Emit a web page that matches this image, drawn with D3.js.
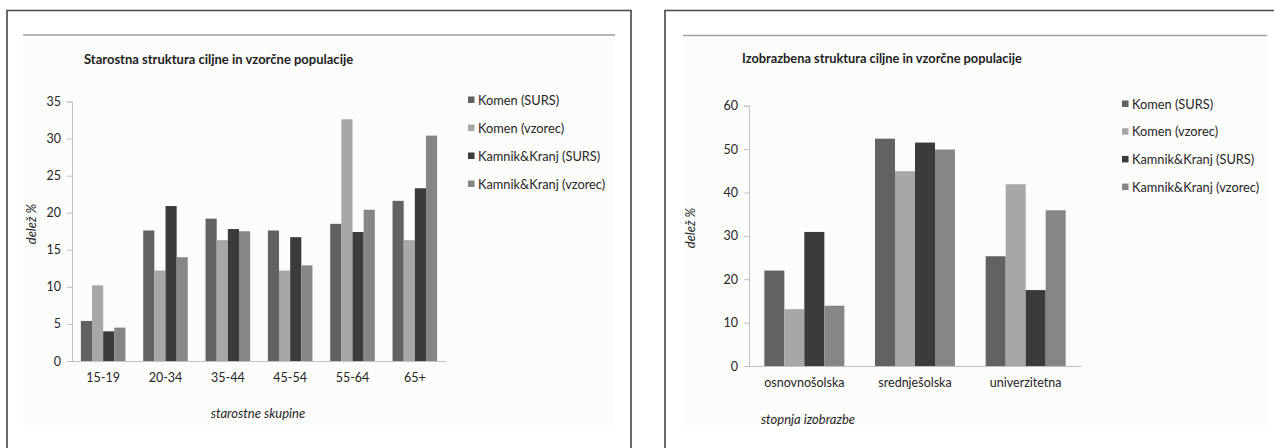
<!DOCTYPE html>
<html>
<head>
<meta charset="utf-8">
<script src="https://cdn.jsdelivr.net/npm/d3@7"></script>
<style>
  html, body { margin: 0; padding: 0; background: #fff; }
  svg { display: block; font-family: Lato, "Open Sans", sans-serif; }
</style>
</head>
<body>
<svg id="chart" width="1274" height="448"></svg>
<script>
// Series shared by both panels
const seriesNames = ["Komen (SURS)", "Komen (vzorec)", "Kamnik&Kranj (SURS)", "Kamnik&Kranj (vzorec)"];
const seriesColors = ["#626262", "#a7a7a7", "#3b3b3b", "#868686"];

// Age structure (share %)
const ageGroups = ["15-19", "20-34", "35-44", "45-54", "55-64", "65+"];
const ageKomenSurs   = [5.4, 17.6, 19.2, 17.6, 18.5, 21.6];
const ageKomenVzorec = [10.2, 12.2, 16.3, 12.2, 32.6, 16.3];
const ageKKSurs      = [4.0, 20.9, 17.8, 16.7, 17.4, 23.3];
const ageKKVzorec    = [4.5, 14.0, 17.5, 12.9, 20.4, 30.4];
const ageTicks = [0, 5, 10, 15, 20, 25, 30, 35];

// Education structure (share %)
const eduLevels = ["osnovnošolska", "srednješolska", "univerzitetna"];
const eduKomenSurs   = [22.0, 52.4, 25.3];
const eduKomenVzorec = [13.1, 44.9, 41.9];
const eduKKSurs      = [30.9, 51.5, 17.5];
const eduKKVzorec    = [13.9, 49.9, 35.9];
const eduTicks = [0, 10, 20, 30, 40, 50, 60];

const svg = d3.select("#chart");

function panel(cfg) {
  const g = svg.append("g");

  // outer frame (open at the bottom / right edge of the page)
  g.append("path")
    .attr("d", cfg.framePath)
    .attr("fill", "none")
    .attr("stroke", "#474747")
    .attr("stroke-width", 1.6);

  // faint chart area
  g.append("rect")
    .attr("x", cfg.area[0]).attr("y", cfg.area[1])
    .attr("width", cfg.area[2]).attr("height", cfg.area[3])
    .attr("fill", "#fcfcfb");

  // rule under the header
  g.append("line")
    .attr("x1", cfg.rule[0]).attr("x2", cfg.rule[1])
    .attr("y1", cfg.rule[2]).attr("y2", cfg.rule[2])
    .attr("stroke", "#a39d9b").attr("stroke-width", 1.6);

  // title
  g.append("text")
    .attr("x", cfg.titlePos[0]).attr("y", cfg.titlePos[1])
    .attr("font-size", cfg.titleSize).attr("font-weight", 700).attr("fill", "#1e1e1e")
    .text(cfg.title);

  const x0 = d3.scaleBand().domain(cfg.categories)
    .range(cfg.xRange).paddingInner(cfg.pad).paddingOuter(cfg.pad / 2);
  const x1 = d3.scaleBand().domain(d3.range(seriesNames.length))
    .range([0, x0.bandwidth()]).padding(0);
  const y = d3.scaleLinear().domain([0, d3.max(cfg.ticks)]).range(cfg.yRange);

  // bars
  const rows = cfg.categories.map((c, i) => ({ c, vals: cfg.series.map(s => s[i]) }));
  g.append("g").selectAll("g").data(rows).join("g")
    .attr("transform", d => `translate(${x0(d.c)},0)`)
    .selectAll("rect").data(d => d.vals.map((v, k) => ({ v, k }))).join("rect")
    .attr("x", d => x1(d.k))
    .attr("width", x1.bandwidth())
    .attr("y", d => y(d.v))
    .attr("height", d => y(0) - y(d.v))
    .attr("fill", d => seriesColors[d.k]);

  // y axis
  const yAxis = g.append("g")
    .attr("transform", `translate(${cfg.xRange[0]},0)`)
    .call(d3.axisLeft(y).tickValues(cfg.ticks).tickSize(5).tickPadding(6));
  yAxis.select(".domain").attr("stroke", "#c4c0bd");
  yAxis.selectAll(".tick line").attr("stroke", "#c4c0bd");
  yAxis.selectAll(".tick text")
    .attr("font-family", "Lato, sans-serif").attr("font-size", 12.5).attr("fill", "#262626");

  // x axis
  const xAxis = g.append("g")
    .attr("transform", `translate(0,${y(0)})`)
    .call(d3.axisBottom(x0).tickSize(0).tickPadding(cfg.xTickPad));
  xAxis.select(".domain").attr("stroke", "#c4c0bd");
  xAxis.selectAll(".tick text")
    .attr("font-family", "Lato, sans-serif").attr("font-size", 12.5).attr("fill", "#262626");

  // axis titles
  g.append("text")
    .attr("transform", `translate(${cfg.yTitlePos[0]},${cfg.yTitlePos[1]}) rotate(-90)`)
    .attr("text-anchor", "middle").attr("font-size", 13).attr("font-style", "italic").attr("fill", "#262626")
    .text("delež %");
  g.append("text")
    .attr("x", cfg.xTitlePos[0]).attr("y", cfg.xTitlePos[1])
    .attr("text-anchor", "middle").attr("font-size", 13).attr("font-style", "italic").attr("fill", "#262626")
    .text(cfg.xTitle);

  // legend
  const leg = g.append("g").selectAll("g").data(seriesNames).join("g")
    .attr("transform", (d, i) => `translate(${cfg.legendPos[0]},${cfg.legendPos[1] + i * cfg.legendStep})`);
  leg.append("rect").attr("x", 0).attr("y", -3.5).attr("width", 6.5).attr("height", 6.5)
    .attr("fill", (d, i) => seriesColors[i]);
  leg.append("text").attr("x", 10).attr("y", 4.5).attr("font-size", 12.8).attr("fill", "#262626")
    .text(d => d);
}

panel({
  framePath: "M7,448 V10.5 H631 V448",
  area: [23, 38, 592, 388],
  rule: [23, 615, 35],
  title: "Starostna struktura ciljne in vzorčne populacije",
  titleSize: 13,
  titlePos: [84, 64],
  categories: ageGroups,
  series: [ageKomenSurs, ageKomenVzorec, ageKKSurs, ageKKVzorec],
  ticks: ageTicks,
  xRange: [72, 446],
  yRange: [361, 101.5],
  pad: 0.285,
  xTickPad: 12,
  yTitlePos: [36, 224],
  xTitle: "starostne skupine",
  xTitlePos: [258, 418],
  legendPos: [468, 100],
  legendStep: 28
});

panel({
  framePath: "M665,448 V10.5 H1280",
  area: [683, 38, 584, 388],
  rule: [683, 1267, 35.5],
  title: "Izobrazbena struktura ciljne in vzorčne populacije",
  titleSize: 12.8,
  titlePos: [742, 63],
  categories: eduLevels,
  series: [eduKomenSurs, eduKomenVzorec, eduKKSurs, eduKKVzorec],
  ticks: eduTicks,
  xRange: [749, 1081],
  yRange: [366, 105.7],
  pad: 0.277,
  xTickPad: 12,
  yTitlePos: [695, 228],
  xTitle: "stopnja izobrazbe",
  xTitlePos: [808, 424],
  legendPos: [1122, 104],
  legendStep: 27.7
});
</script>
</body>
</html>
